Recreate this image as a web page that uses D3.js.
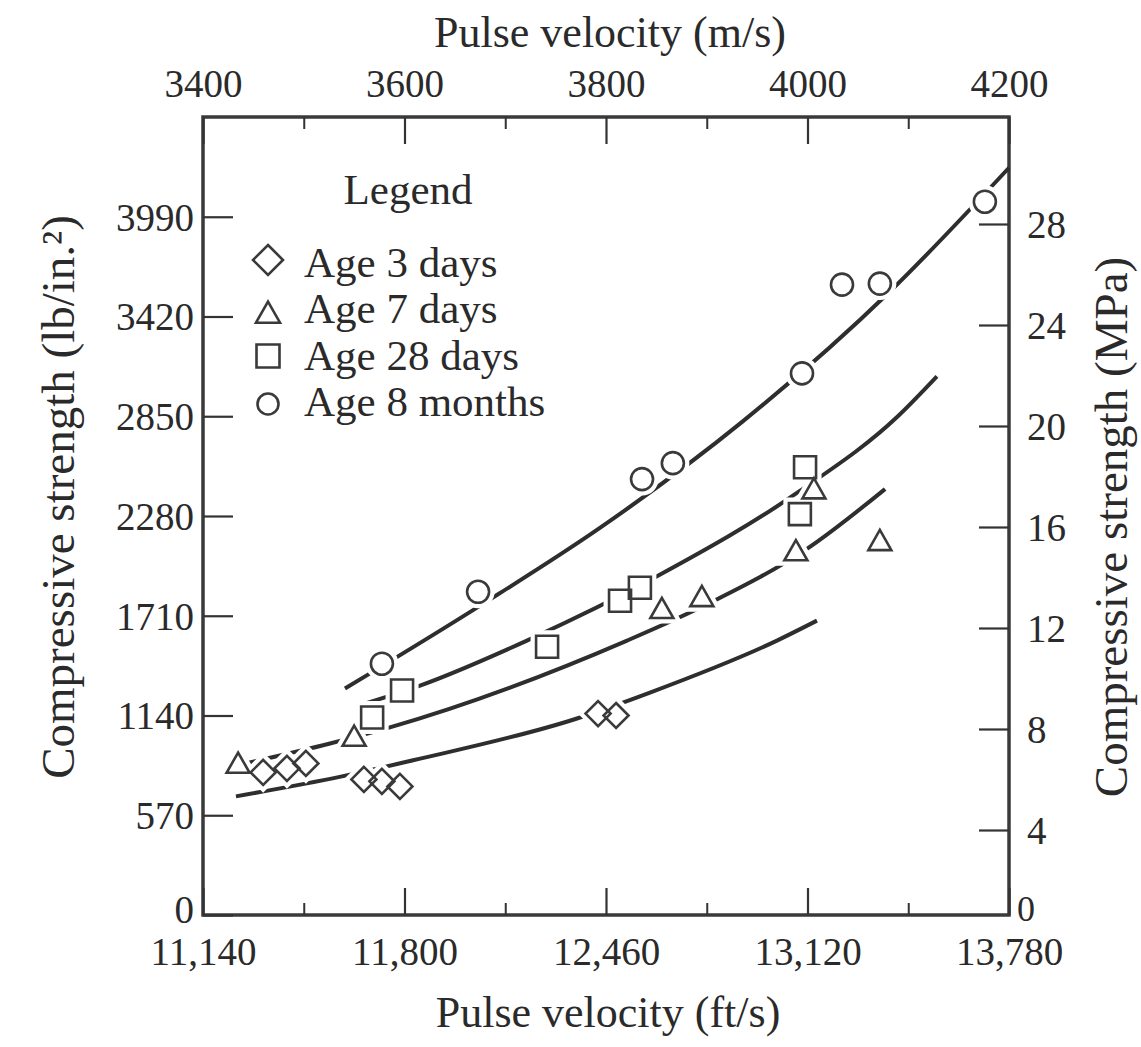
<!DOCTYPE html>
<html><head><meta charset="utf-8">
<script src="https://cdn.jsdelivr.net/npm/d3@7"></script>
<style>
body{margin:0;background:#fff}
text{font-family:"Liberation Serif","Times New Roman",serif;fill:#2a2a2a}
</style>
</head><body>
<svg id="c" width="1141" height="1047"></svg>
<script>
// ---- tick labels / axes ----
const ftTicks = [11140, 11800, 12460, 13120, 13780];
const ftMinor = [11470, 12130, 12790, 13450];
const msTicks = [3400, 3600, 3800, 4000, 4200];
const msMinor = [3500, 3700, 3900, 4100];
const psiTicks = [0, 570, 1140, 1710, 2280, 2850, 3420, 3990];
const mpaTicks = [0, 4, 8, 12, 16, 20, 24, 28];
const seriesNames = ["Age 3 days", "Age 7 days", "Age 28 days", "Age 8 months"];

// ---- measured points (ft/s, lb/in.^2) ----
const age3X = [11337, 11415, 11477, 11667, 11726, 11785, 12434, 12493];
const age3Y = [815, 838, 866, 775, 764, 735, 1151, 1140];
const age7X = [11255, 11635, 12643, 12774, 13082, 13141, 13357];
const age7Y = [866, 1020, 1750, 1818, 2080, 2434, 2138];
const age28X = [11694, 11792, 12267, 12506, 12571, 13112, 13095];
const age28Y = [1129, 1283, 1533, 1796, 1870, 2559, 2291];
const age8mX = [11726, 12041, 12578, 12679, 13102, 13233, 13357, 13701];
const age8mY = [1436, 1847, 2491, 2582, 3095, 3602, 3608, 4076];

// ---- fitted curves ----
const fit3X = [11248, 11595, 11828, 12365, 12604, 13020, 13151];
const fit3Y = [678, 792, 884, 1123, 1271, 1568, 1682];
const fit7X = [11278, 11556, 11752, 12529, 12801, 13118, 13374];
const fit7Y = [866, 980, 1072, 1568, 1784, 2092, 2434];
const fit28X = [11661, 11851, 12201, 12630, 13095, 13416, 13544];
const fit28Y = [1203, 1311, 1568, 1938, 2423, 2850, 3078];
const fit8mX = [11605, 12057, 12440, 12909, 13390, 13780];
const fit8mY = [1294, 1778, 2212, 2822, 3563, 4270];

const L = 203, R = 1009, T = 117, B = 915;
const ink = "#333";
const svg = d3.select("#c");

const x = d3.scaleLinear().domain([11140, 13780]).range([L, R]);
const xTop = d3.scaleLinear().domain([3400, 4200]).range([L, R]);
const y = d3.scaleLinear().domain([0, 4560]).range([B, T]);
const yR = d3.scaleLinear().domain([0, 28]).range([931, 224]);

const font = 39;
const plain = d3.format("d");

// frame
svg.append("rect").attr("x", L).attr("y", T).attr("width", R - L).attr("height", B - T)
  .attr("fill", "none").attr("stroke", "#3a3a3a").attr("stroke-width", 3.5);

// bottom axis
const gB = svg.append("g").attr("transform", `translate(0,${B})`)
  .call(d3.axisBottom(x).tickValues(ftTicks).tickSize(-27).tickPadding(0).tickFormat(d3.format(",")));
gB.select(".domain").remove();
gB.selectAll("line").attr("stroke", ink).attr("stroke-width", 2.2);
gB.selectAll("text").attr("font-size", font).attr("dy", null).attr("y", 50).attr("fill", "#2a2a2a");
svg.append("g").attr("transform", `translate(0,${B})`)
  .call(d3.axisBottom(x).tickValues(ftMinor).tickSize(-12).tickFormat(""))
  .call(g => { g.select(".domain").remove(); g.selectAll("line").attr("stroke", ink).attr("stroke-width", 2); });

// top axis
const gT = svg.append("g").attr("transform", `translate(0,${T})`)
  .call(d3.axisTop(xTop).tickValues(msTicks).tickSize(-27).tickPadding(0).tickFormat(plain));
gT.select(".domain").remove();
gT.selectAll("line").attr("stroke", ink).attr("stroke-width", 2.2);
gT.selectAll("text").attr("font-size", font).attr("y", -20).attr("fill", "#2a2a2a");
svg.append("g").attr("transform", `translate(0,${T})`)
  .call(d3.axisTop(xTop).tickValues(msMinor).tickSize(-12).tickFormat(""))
  .call(g => { g.select(".domain").remove(); g.selectAll("line").attr("stroke", ink).attr("stroke-width", 2); });

// left axis
const gL = svg.append("g").attr("transform", `translate(${L},0)`)
  .call(d3.axisLeft(y).tickValues(psiTicks).tickSize(-30).tickPadding(0).tickFormat(plain));
gL.select(".domain").remove();
gL.selectAll("line").attr("stroke", ink).attr("stroke-width", 2.2);
gL.selectAll("text").attr("font-size", font).attr("x", -9)
  .attr("dy", d => d === 0 ? "0.2em" : "0.34em").attr("fill", "#2a2a2a");

// right axis
const gR = svg.append("g").attr("transform", `translate(${R},0)`)
  .call(d3.axisRight(yR).tickValues(mpaTicks).tickSize(-30).tickPadding(0).tickFormat(plain));
gR.select(".domain").remove();
gR.selectAll("line").attr("stroke", ink).attr("stroke-width", 2.2)
  .attr("display", d => d === 0 ? "none" : null);
gR.selectAll("text").attr("font-size", d => d === 0 ? 36 : font).attr("x", d => d === 0 ? 8 : 18)
  .attr("dy", d => d === 0 ? "-11px" : "0.34em").attr("fill", "#2a2a2a");

// titles
svg.append("text").attr("x", 610).attr("y", 47).attr("text-anchor", "middle")
  .attr("font-size", 44).text("Pulse velocity (m/s)");
svg.append("text").attr("x", 608).attr("y", 1027).attr("text-anchor", "middle")
  .attr("font-size", 44).text("Pulse velocity (ft/s)");
svg.append("text").attr("transform", "translate(74,497) rotate(-90)").attr("text-anchor", "middle")
  .attr("font-size", 47).text("Compressive strength (lb/in.²)");
svg.append("text").attr("transform", "translate(1127,527) rotate(-90)").attr("text-anchor", "middle")
  .attr("font-size", 47).text("Compressive strength (MPa)");

// curves
const line = d3.line().x(d => x(d[0])).y(d => y(d[1])).curve(d3.curveMonotoneX);
const fits = [[fit3X, fit3Y], [fit7X, fit7Y], [fit28X, fit28Y], [fit8mX, fit8mY]];
fits.forEach(([fx, fy]) => {
  svg.append("path").datum(fx.map((v, i) => [v, fy[i]])).attr("d", line)
    .attr("fill", "none").attr("stroke", "#2e2e2e").attr("stroke-width", 4).attr("stroke-linecap", "butt");
});

// marker shapes
function shape(kind, cx, cy, s) {
  if (kind === "diamond") return `M${cx},${cy - s}L${cx + s},${cy}L${cx},${cy + s}L${cx - s},${cy}Z`;
  if (kind === "triangle") { const h = s * 0.95; return `M${cx},${cy - h}L${cx + s},${cy + h * 0.85}L${cx - s},${cy + h * 0.85}Z`; }
  if (kind === "square") return `M${cx - s},${cy - s}h${2 * s}v${2 * s}h${-2 * s}Z`;
  return `M${cx - s},${cy}a${s},${s} 0 1,0 ${2 * s},0a${s},${s} 0 1,0 ${-2 * s},0Z`;
}
const kinds = ["diamond", "triangle", "square", "circle"];
const sizes = [12.5, 11.5, 11, 11];
const sets = [[age3X, age3Y], [age7X, age7Y], [age28X, age28Y], [age8mX, age8mY]];

// white halos (gaps in curves)
sets.forEach(([sx, sy], k) => {
  sx.forEach((v, i) => {
    svg.append("path").attr("d", shape(kinds[k], x(v), y(sy[i]), sizes[k]))
      .attr("fill", "#fff").attr("stroke", "#fff").attr("stroke-width", 11);
  });
});
sets.forEach(([sx, sy], k) => {
  sx.forEach((v, i) => {
    svg.append("path").attr("d", shape(kinds[k], x(v), y(sy[i]), sizes[k]))
      .attr("fill", "none").attr("stroke", "#3a3a3a").attr("stroke-width", 2.6);
  });
});

// legend
svg.append("text").attr("x", 408).attr("y", 204).attr("text-anchor", "middle")
  .attr("font-size", 43).text("Legend");
const legY = [277, 323, 370, 416];
const legS = [15, 12, 11.5, 10.5];
const legOff = [-17, -10, -14, -12];
seriesNames.forEach((n, i) => {
  svg.append("path").attr("d", shape(kinds[i], 268, legY[i] + legOff[i], legS[i]))
    .attr("fill", "none").attr("stroke", "#3a3a3a").attr("stroke-width", 2.6);
  svg.append("text").attr("x", 304).attr("y", legY[i]).attr("font-size", 43).text(n);
});
</script>
</body></html>
